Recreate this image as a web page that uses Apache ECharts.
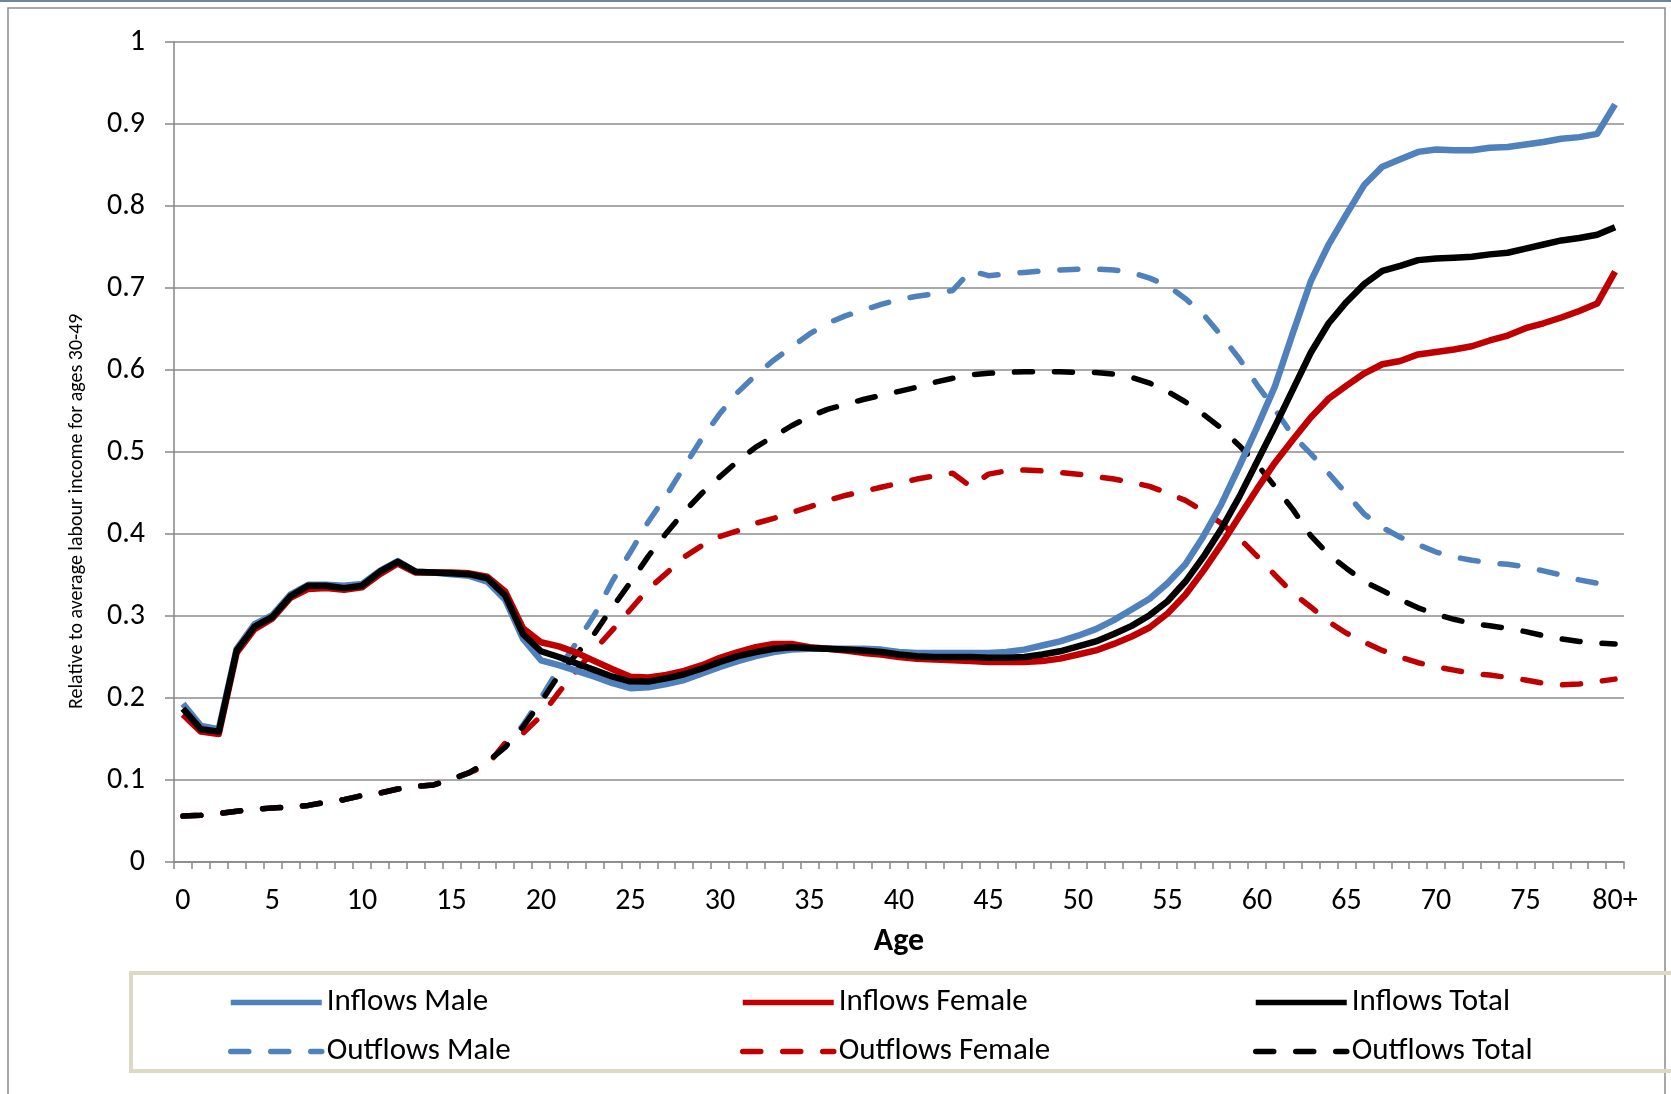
<!DOCTYPE html>
<html>
<head>
<meta charset="utf-8">
<script src="https://cdn.jsdelivr.net/npm/echarts@6/dist/echarts.min.js"></script>
<style>
html,body{margin:0;padding:0;background:#fff;}
#chart{width:1671px;height:1094px;}
</style>
</head>
<body>
<div id="chart"></div>
<script>
// Categories (ages)
const ages = Array.from({length: 80}, (_, i) => String(i)).concat(['80+']);

const inflowsMale = [0.193,0.166,0.162,0.260,0.290,0.301,0.326,0.338,0.338,0.337,
  0.339,0.355,0.367,0.354,0.353,0.351,0.349,0.342,0.320,0.272,
  0.246,0.240,0.233,0.226,0.218,0.212,0.213,0.217,0.222,0.230,
  0.238,0.245,0.251,0.256,0.259,0.260,0.260,0.260,0.260,0.259,
  0.256,0.255,0.255,0.255,0.255,0.255,0.256,0.259,0.264,0.269,
  0.276,0.284,0.295,0.308,0.321,0.340,0.363,0.397,0.436,0.482,
  0.530,0.580,0.645,0.708,0.753,0.790,0.826,0.848,0.857,0.866,
  0.869,0.868,0.868,0.871,0.872,0.875,0.878,0.882,0.884,0.888,0.924];

const inflowsFemale = [0.180,0.159,0.156,0.255,0.284,0.297,0.322,0.333,0.334,0.332,
  0.335,0.351,0.364,0.353,0.353,0.353,0.352,0.348,0.330,0.285,
  0.268,0.263,0.255,0.245,0.235,0.226,0.225,0.228,0.233,0.240,
  0.249,0.256,0.262,0.266,0.266,0.262,0.260,0.258,0.255,0.253,
  0.250,0.248,0.247,0.246,0.245,0.244,0.244,0.244,0.245,0.248,
  0.253,0.258,0.266,0.275,0.286,0.303,0.326,0.355,0.387,0.421,
  0.455,0.487,0.515,0.542,0.565,0.581,0.596,0.607,0.611,0.619,
  0.622,0.625,0.629,0.636,0.642,0.651,0.657,0.664,0.672,0.681,0.720];

const inflowsTotal = [0.187,0.162,0.159,0.258,0.287,0.299,0.324,0.337,0.337,0.334,
  0.337,0.354,0.366,0.354,0.353,0.352,0.351,0.346,0.325,0.278,
  0.257,0.250,0.242,0.234,0.226,0.220,0.220,0.224,0.229,0.236,
  0.244,0.251,0.256,0.260,0.262,0.261,0.260,0.259,0.258,0.256,
  0.253,0.251,0.250,0.250,0.250,0.249,0.249,0.250,0.253,0.257,
  0.263,0.269,0.278,0.288,0.301,0.318,0.342,0.372,0.406,0.445,
  0.488,0.531,0.576,0.621,0.657,0.683,0.705,0.721,0.727,0.734,
  0.736,0.737,0.738,0.741,0.743,0.748,0.753,0.758,0.761,0.765,0.774];

const outflowsMale = [0.056,0.057,0.059,0.062,0.064,0.066,0.067,0.069,0.073,0.076,
  0.081,0.084,0.089,0.092,0.094,0.101,0.109,0.122,0.140,0.167,
  0.200,0.236,0.268,0.302,0.343,0.378,0.415,0.447,0.482,0.517,
  0.547,0.573,0.594,0.612,0.628,0.644,0.657,0.666,0.673,0.680,
  0.686,0.690,0.693,0.697,0.721,0.715,0.717,0.719,0.721,0.722,
  0.723,0.723,0.722,0.719,0.712,0.703,0.687,0.668,0.642,0.614,
  0.582,0.552,0.520,0.498,0.474,0.449,0.424,0.408,0.396,0.387,
  0.378,0.372,0.368,0.365,0.363,0.360,0.355,0.350,0.344,0.340,0.346];

const outflowsFemale = [0.056,0.057,0.059,0.062,0.064,0.066,0.067,0.069,0.073,0.076,
  0.081,0.084,0.089,0.092,0.094,0.101,0.109,0.118,0.145,0.157,
  0.178,0.207,0.234,0.259,0.283,0.308,0.333,0.352,0.372,0.386,
  0.397,0.404,0.413,0.419,0.426,0.433,0.441,0.447,0.452,0.457,
  0.462,0.467,0.471,0.474,0.458,0.473,0.477,0.478,0.477,0.475,
  0.473,0.470,0.467,0.463,0.458,0.450,0.441,0.428,0.413,0.395,
  0.373,0.350,0.328,0.311,0.293,0.279,0.268,0.258,0.250,0.243,
  0.238,0.234,0.230,0.228,0.225,0.222,0.218,0.216,0.217,0.220,0.223];

const outflowsTotal = [0.056,0.057,0.059,0.062,0.064,0.066,0.067,0.069,0.073,0.076,
  0.081,0.084,0.089,0.092,0.094,0.101,0.109,0.122,0.140,0.165,
  0.195,0.228,0.254,0.279,0.311,0.341,0.373,0.401,0.427,0.450,
  0.470,0.489,0.506,0.519,0.532,0.543,0.552,0.558,0.564,0.569,
  0.574,0.579,0.585,0.590,0.594,0.596,0.597,0.598,0.598,0.598,
  0.597,0.597,0.595,0.591,0.584,0.574,0.561,0.546,0.529,0.508,
  0.485,0.458,0.430,0.398,0.375,0.358,0.342,0.331,0.320,0.310,
  0.302,0.296,0.291,0.288,0.285,0.281,0.276,0.272,0.269,0.267,0.266];

const yTicks = [0, 0.1, 0.2, 0.3, 0.4, 0.5, 0.6, 0.7, 0.8, 0.9, 1];
const yTitle = 'Relative to average labour income for ages 30-49';

const FONT = 'Carlito, Calibri, Lato, sans-serif';
const BLUE = '#4f81bd', RED = '#c00000', BLACK = '#000000';
const DASH = [18, 22];
const LW = 5.5;
const LW_SOLID = 6.5;

function line(name, data, color, dashed) {
  return {
    name: name, type: 'line', data: data, symbol: 'none', showSymbol: false, smooth: false,
    lineStyle: { color: color, width: dashed ? LW : LW_SOLID, type: dashed ? DASH : 'solid', cap: dashed ? 'round' : 'butt', join: 'round' },
    itemStyle: { color: color },
    emphasis: { disabled: true },
    z: dashed ? 2 : 3
  };
}

const chart = echarts.init(document.getElementById('chart'), null, { renderer: 'canvas' });

function legendAt(left, names) {
  return {
    orient: 'vertical', left: left, top: 982,
    itemWidth: 91, itemHeight: 14, itemGap: 18,
    textStyle: { fontFamily: FONT, fontSize: 31, color: '#000', lineHeight: 30 },
    itemStyle: { opacity: 0 },
    lineStyle: { width: LW },
    selectedMode: false,
    data: names
  };
}

chart.setOption({
  animation: false,
  backgroundColor: '#ffffff',
  textStyle: { fontFamily: FONT },
  graphic: [
    { type: 'rect', shape: { x: 0, y: 0, width: 1671, height: 2 }, style: { fill: '#6d8795' }, silent: true },
    { type: 'rect', shape: { x: 8, y: 8, width: 1657, height: 1100 }, style: { fill: null, stroke: '#8c8c8c', lineWidth: 1.5 }, silent: true },
    { type: 'rect', shape: { x: 131, y: 973, width: 1560, height: 98 }, style: { fill: null, stroke: '#ddd9c3', lineWidth: 4 }, silent: true },
    { type: 'text', x: 77, y: 709, rotation: Math.PI / 2, silent: true,
      style: { text: yTitle, fontFamily: FONT, fontSize: 20, fill: '#000', align: 'left', verticalAlign: 'middle' } }
  ],
  grid: { left: 174, right: 47, top: 42, bottom: 232, containLabel: false },
  legend: [
    legendAt(223, ['Inflows Male', 'Outflows Male']),
    legendAt(735, ['Inflows Female', 'Outflows Female']),
    legendAt(1248, ['Inflows Total', 'Outflows Total'])
  ],
  xAxis: {
    type: 'category', data: ages, boundaryGap: true,
    name: 'Age', nameLocation: 'middle', nameGap: 64,
    nameTextStyle: { fontFamily: FONT, fontSize: 32, fontWeight: 'bold', color: '#000' },
    axisLine: { show: true, lineStyle: { color: '#868686', width: 1.5 } },
    axisTick: { show: true, interval: 0, length: 7, inside: false, alignWithLabel: false, lineStyle: { color: '#868686', width: 1.5 } },
    axisLabel: { interval: 4, margin: 24, fontFamily: FONT, fontSize: 30, color: '#000' },
    splitLine: { show: false }
  },
  yAxis: {
    type: 'value', min: 0, max: 1, interval: 0.1,
    axisLine: { show: true, lineStyle: { color: '#868686', width: 1.5 } },
    axisTick: { show: true, length: 9, lineStyle: { color: '#868686', width: 1.5 } },
    axisLabel: {
      margin: 29, fontFamily: FONT, fontSize: 30, color: '#000',
      formatter: function (v) { const t = yTicks.find(function (k) { return Math.abs(k - v) < 1e-9; }); return String(t !== undefined ? t : v); }
    },
    splitLine: { show: true, lineStyle: { color: '#8c8c8c', width: 1.5 } }
  },
  series: [
    line('Inflows Male', inflowsMale, BLUE, false),
    line('Inflows Female', inflowsFemale, RED, false),
    line('Inflows Total', inflowsTotal, BLACK, false),
    line('Outflows Male', outflowsMale, BLUE, true),
    line('Outflows Female', outflowsFemale, RED, true),
    line('Outflows Total', outflowsTotal, BLACK, true)
  ]
});
</script>
</body>
</html>
